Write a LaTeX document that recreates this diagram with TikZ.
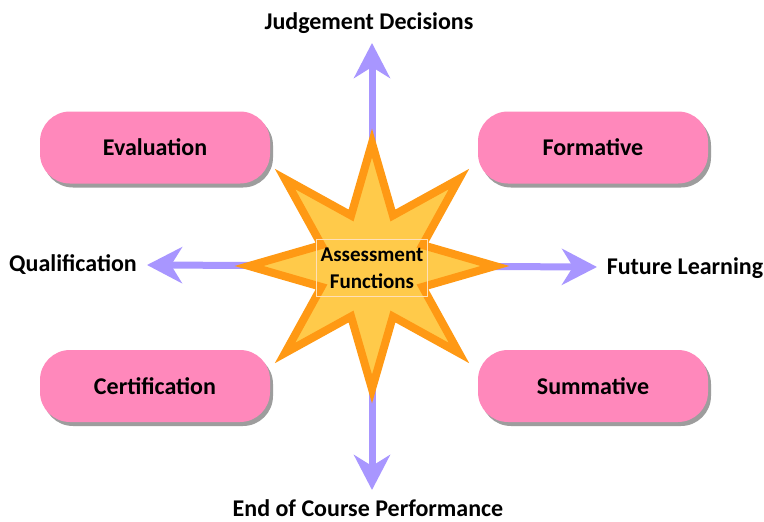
\documentclass[tikz,border=0pt]{standalone}
\usepackage{fontspec}
\setmainfont{Carlito}
\usetikzlibrary{arrows.meta,shapes.geometric,shadows}
\definecolor{pinkbox}{RGB}{255,136,187}
\definecolor{lav}{RGB}{168,150,255}
\definecolor{starfill}{RGB}{255,202,74}
\definecolor{stardraw}{RGB}{255,153,20}
\begin{document}
\begin{tikzpicture}[x=1pt,y=-1pt,
  box/.style={rectangle, rounded corners=30pt, minimum width=230pt, minimum height=72pt,
    fill=pinkbox, font=\fontsize{24}{28}\selectfont\bfseries,
    drop shadow={shadow xshift=3pt, shadow yshift=-4pt, opacity=0.55, fill=black!70}},
  lbl/.style={font=\fontsize{24}{28}\selectfont\bfseries, inner sep=0pt},
  arr/.style={draw=lav, line width=7pt, -{Stealth[length=35pt,width=36pt,inset=11pt]}},
  starsty/.style={star, star points=8, star point ratio=2.25, minimum size=246pt,
    inner sep=0pt, draw=stardraw, fill=starfill, line width=8pt}]
\useasboundingbox (0,0) rectangle (764,522);
\coordinate (c) at (372,266);
\coordinate (tu) at (372,43);
\coordinate (td) at (372,490);
\coordinate (tl) at (147,265);
\coordinate (tr) at (597,267);
\node[box] (eval) at (155,147.5) {Evaluation};
\node[box] (form) at (593,147.5) {Formative};
\node[box] (cert) at (155,386) {Certification};
\node[box] (summ) at (593,386) {Summative};
\draw[arr] (c) -- (tu);
\draw[arr] (c) -- (td);
\draw[arr] (c) -- (tl);
\draw[arr] (c) -- (tr);
\node[starsty] (star) at (c) {};
\node[draw=stardraw!30, line width=0.6pt, minimum width=111pt, minimum height=57pt,
  align=center, inner sep=0pt, font=\fontsize{21}{27}\selectfont\bfseries] (txt) at (372,268) {Assessment\\Functions};
\node[lbl] (jd) at (369,23) {Judgement Decisions};
\node[lbl, anchor=base] (ec) at (368,516) {End of Course Performance};
\node[lbl] (q) at (73,265) {Qualification};
\node[lbl] (fl) at (685,268) {Future Learning};
\end{tikzpicture}
\end{document}
